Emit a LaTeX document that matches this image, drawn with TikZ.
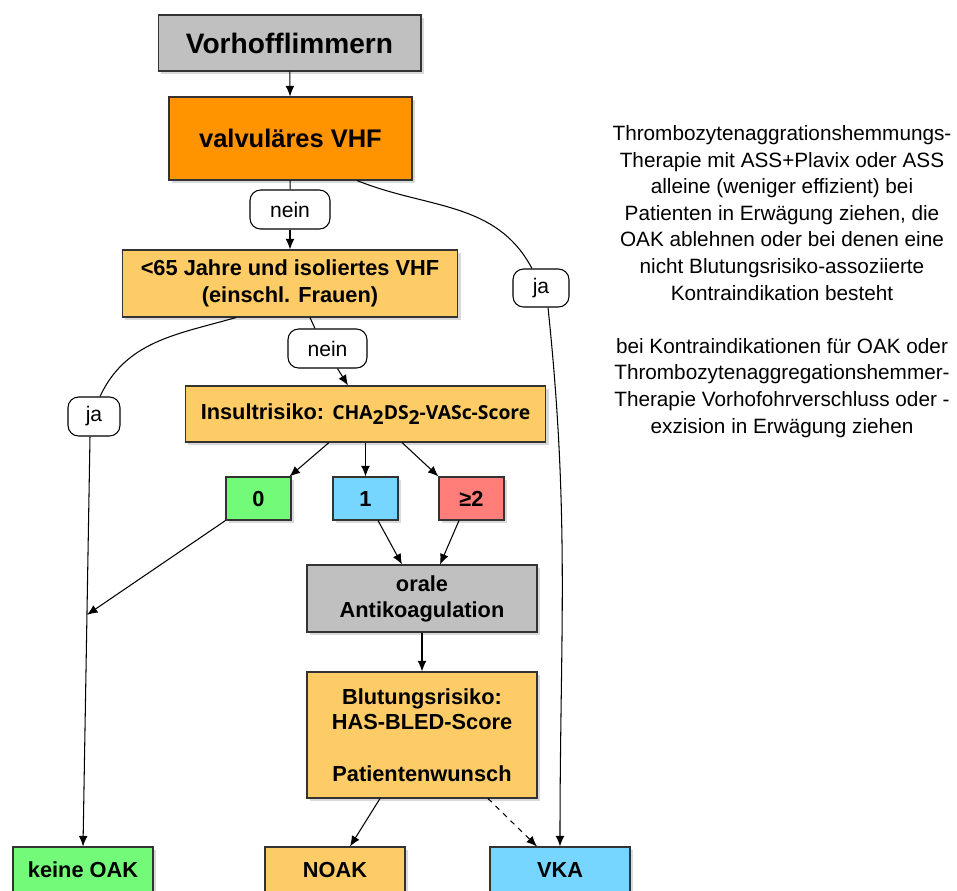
\documentclass[tikz,border=0pt]{standalone}
\usepackage{fontspec}
\setmainfont{Liberation Sans}
\newfontfamily\scorefont{Open Sans}
\usetikzlibrary{calc, positioning, shapes, shadows, arrows.meta}
\definecolor{silver}{RGB}{192,192,192}
\definecolor{tangerine}{RGB}{255,147,0}
\definecolor{cantaloupe}{RGB}{254,204,102}
\definecolor{flora}{RGB}{115,250,121}
\definecolor{sky}{RGB}{118,214,255}
\definecolor{salmon}{RGB}{255,126,121}
\tikzset{
  flowbox/.style={draw=black!80, line width=0.6pt, inner sep=0pt, align=center,
    font=\bfseries\fontsize{12.4}{14.7}\selectfont,
    drop shadow={opacity=0.3, shadow xshift=1.8pt, shadow yshift=-1.8pt}},
  answer/.style={draw, line width=0.6pt, rounded corners=6pt, fill=white, inner sep=0pt,
    minimum height=0.78cm, font=\fontsize{12}{14}\selectfont},
  flow/.style={-{Latex[length=6pt,width=5pt]}, line width=0.6pt},
}
\newcommand{\sub}{\raisebox{-3pt}{2}}

\begin{document}
\begin{tikzpicture}[x=0.02cm, y=-0.02cm]
\useasboundingbox (0,0) rectangle (957,890);
% boxes
\node[flowbox, fill=silver, minimum width=5.26cm, minimum height=1.12cm,
  font=\bfseries\fontsize{16}{19}\selectfont] (vhf) at (289.5,43) {Vorhofflimmern};
\node[flowbox, fill=tangerine, minimum width=4.86cm, minimum height=1.66cm,
  font=\bfseries\fontsize{14.5}{17}\selectfont] (valv) at (290.5,138.5) {valvuläres VHF};
\node[answer, minimum width=1.6cm] (nein1) at (290,209.5) {nein};
\node[flowbox, fill=cantaloupe, minimum width=6.72cm, minimum height=1.34cm,
  font=\bfseries\fontsize{12.4}{15.3}\selectfont] (young) at (290,283.5) {<65 Jahre und isoliertes VHF\\(einschl. Frauen)};
\node[answer, minimum width=1.12cm, minimum height=0.76cm] (jaR) at (541,288) {ja};
\node[answer, minimum width=1.58cm] (nein2) at (327.5,348.5) {nein};
\node[answer, minimum width=1.04cm] (jaL) at (94,416.5) {ja};
\node[flowbox, fill=cantaloupe, minimum width=7.22cm, minimum height=1.12cm] (insult) at (365.5,414)
  {Insultrisiko: {\scorefont\fontsize{11}{14}\selectfont CHA\sub DS\sub-VASc-Score}};
\node[flowbox, fill=flora, minimum width=1.3cm, minimum height=0.86cm] (s0) at (258.5,498.5) {0};
\node[flowbox, fill=sky, minimum width=1.3cm, minimum height=0.86cm] (s1) at (365.5,498.5) {1};
\node[flowbox, fill=salmon, minimum width=1.3cm, minimum height=0.86cm] (s2) at (471.5,498.5) {≥2};
\node[flowbox, fill=silver, minimum width=4.6cm, minimum height=1.34cm] (oak) at (422,598.5) {orale\\Antikoagulation};
\node[flowbox, fill=cantaloupe, minimum width=4.6cm, minimum height=2.52cm] (bleed) at (422,735)
  {Blutungsrisiko:\\HAS-BLED-Score\\[14.7pt]Patientenwunsch};
\node[flowbox, fill=flora, minimum width=2.8cm, minimum height=0.92cm] (none) at (83,870) {keine OAK};
\node[flowbox, fill=cantaloupe, minimum width=2.8cm, minimum height=0.92cm] (noak) at (335,870) {NOAK};
\node[flowbox, fill=sky, minimum width=2.8cm, minimum height=0.92cm] (vka) at (560,870) {VKA};
\node[align=center, font=\fontsize{11.8}{15.13}\selectfont] (note) at (782,281.5)
  {Thrombozytenaggrationshemmungs-\\Therapie mit ASS+Plavix oder ASS\\alleine (weniger effizient) bei\\
   Patienten in Erwägung ziehen, die\\OAK ablehnen oder bei denen eine\\nicht Blutungsrisiko-assoziierte\\
   Kontraindikation besteht\\[15.13pt]bei Kontraindikationen für OAK oder\\
   Thrombozytenaggregationshemmer-\\Therapie Vorhofohrverschluss oder -\\exzision in Erwägung ziehen};
% connectors
\draw[flow] (vhf) -- (valv);
\draw[line width=0.6pt] (valv) -- (nein1);
\draw[flow] (nein1) -- (young);
\draw[line width=0.6pt] ([xshift=1.33cm]valv.south) to[out=-22, in=118] ([xshift=-0.18cm]jaR.north);
\draw[flow] ([xshift=0.14cm]jaR.south) to[out=-84, in=90] (vka.north);
\draw[line width=0.6pt] ([xshift=-1.08cm]young.south) to[out=-164, in=65] ([xshift=0.12cm]jaL.north);
\draw[flow] ([xshift=-0.08cm]jaL.south) -- (none.north);
\coordinate (merge) at ($([xshift=-0.08cm]jaL.south)!0.435!(none.north)$);
\draw[line width=0.6pt] ([xshift=0.4cm]young.south) -- ([xshift=-0.25cm]nein2.north);
\draw[flow] ([xshift=0.2cm]nein2.south) -- ([xshift=-0.35cm]insult.north);
\draw[flow] ([xshift=-0.73cm]insult.south) -- ([xshift=-0.04cm]s0.north east);
\draw[flow] (insult.south) -- (s1.north);
\draw[flow] ([xshift=0.73cm]insult.south) -- (s2.north west);
\draw[flow] (s0.south west) -- (merge);
\draw[flow] ([xshift=0.25cm]s1.south) -- ([xshift=-0.4cm]oak.north);
\draw[flow] ([xshift=-0.25cm]s2.south) -- ([xshift=0.36cm]oak.north);
\draw[flow] (oak) -- (bleed);
\draw[flow] ([xshift=-0.84cm]bleed.south) -- ([xshift=0.3cm]noak.north);
\draw[flow, dashed] ([xshift=1.32cm]bleed.south) -- ([xshift=-0.46cm]vka.north);
\end{tikzpicture}
\end{document}
